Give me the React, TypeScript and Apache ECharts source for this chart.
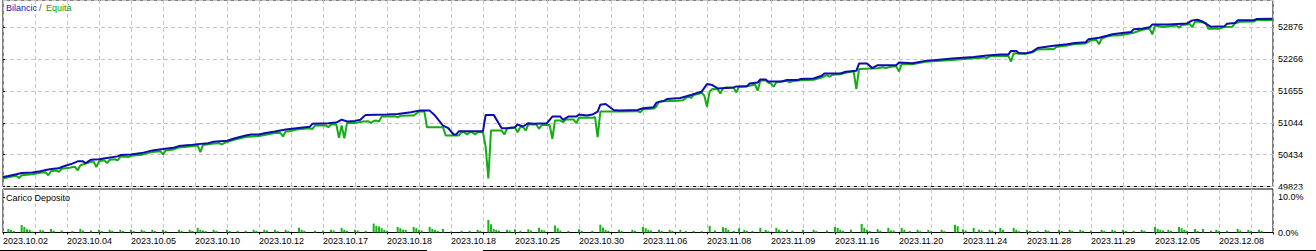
import React, { useEffect, useRef } from 'react';
import * as echarts from 'echarts';

// x = deal number, y = account value
const dateLabels = [
  '2023.10.02', '2023.10.04', '2023.10.05', '2023.10.10', '2023.10.12',
  '2023.10.17', '2023.10.18', '2023.10.18', '2023.10.25', '2023.10.30',
  '2023.11.06', '2023.11.08', '2023.11.09', '2023.11.16', '2023.11.20',
  '2023.11.24', '2023.11.28', '2023.11.29', '2023.12.05', '2023.12.08',
];

const balance: number[][] = [
  [0, 50006], [2, 50025], [5, 50058], [7, 50083], [11, 50090], [14, 50115], [17, 50148], [19, 50163],
  [21, 50172], [22, 50197], [24, 50230], [26, 50262], [28, 50306], [30, 50306], [31, 50268], [32, 50306],
  [33, 50338], [36, 50344], [39, 50369], [43, 50401], [44, 50426], [48, 50439], [52, 50464], [56, 50516],
  [60, 50541], [64, 50567], [66, 50598], [70, 50617], [73, 50636], [77, 50655], [79, 50682], [84, 50701],
  [87, 50750], [91, 50802], [93, 50821], [96, 50821], [98, 50846], [102, 50878], [106, 50916], [110, 50941],
  [115, 50968], [116, 51025], [122, 51037], [125, 51050], [127, 51107], [129, 51069], [132, 51082], [134, 51102],
  [136, 51197], [144, 51203], [148, 51216], [153, 51247], [156, 51279], [160, 51279], [162, 51184], [165, 50993],
  [167, 50941], [169, 50821], [170, 50821], [171, 50884], [180, 50884], [181, 51197], [184, 51197], [187, 50941],
  [189, 50941], [192, 50960], [193, 51012], [195, 50974], [197, 51037], [199, 51025], [204, 51037], [206, 51164],
  [209, 51164], [210, 51102], [212, 51164], [215, 51164], [216, 51203], [219, 51184], [221, 51203], [223, 51260],
  [224, 51393], [226, 51407], [229, 51292], [231, 51279], [238, 51292], [240, 51323], [244, 51342], [245, 51432],
  [248, 51470], [249, 51502], [254, 51521], [258, 51579], [261, 51628], [262, 51642], [264, 51788], [266, 51769],
  [268, 51705], [274, 51724], [275, 51743], [279, 51743], [280, 51800], [283, 51819], [284, 51876], [286, 51876],
  [287, 51838], [292, 51838], [294, 51865], [298, 51865], [299, 51884], [304, 51895], [307, 51947], [308, 51991],
  [314, 51991], [316, 52023], [320, 52042], [321, 52182], [324, 52182], [326, 52094], [328, 52151], [335, 52151],
  [336, 52201], [341, 52189], [346, 52233], [356, 52277], [364, 52309], [369, 52334], [374, 52353], [377, 52353],
  [378, 52424], [380, 52424], [381, 52380], [384, 52385], [386, 52410], [388, 52481], [394, 52525], [399, 52552],
  [402, 52576], [406, 52590], [407, 52647], [411, 52678], [414, 52716], [416, 52742], [419, 52762], [423, 52786],
  [424, 52838], [427, 52849], [430, 52876], [431, 52933], [437, 52929], [444, 52952], [446, 53010], [448, 53021],
  [450, 52983], [453, 52887], [458, 52895], [459, 52945], [462, 52960], [463, 53010], [469, 53010], [470, 53034],
  [476, 53040],
];

const equity: number[][] = [
  [0, 49976], [2, 50001], [5, 50029], [6, 49987], [7, 50039], [11, 50058], [14, 50087], [16, 50095],
  [17, 50039], [18, 50115], [20, 50130], [21, 50102], [22, 50163], [25, 50182], [27, 50200], [28, 50134],
  [29, 50230], [33, 50296], [34, 50300], [35, 50197], [36, 50306], [38, 50325], [39, 50274], [40, 50335],
  [42, 50345], [43, 50325], [44, 50392], [46, 50400], [47, 50388], [48, 50411], [52, 50430], [56, 50487],
  [59, 50500], [60, 50439], [61, 50516], [64, 50535], [66, 50573], [70, 50592], [73, 50611], [74, 50483],
  [75, 50621], [79, 50649], [81, 50655], [82, 50630], [84, 50678], [87, 50726], [91, 50773], [96, 50792],
  [97, 50802], [102, 50850], [104, 50855], [105, 50783], [106, 50880], [108, 50888], [110, 50916], [115, 50940],
  [116, 50925], [117, 50993], [121, 51000], [122, 50960], [123, 51012], [125, 51012], [126, 50758], [127, 50993],
  [128, 50746], [129, 51040], [132, 51040], [135, 51069], [137, 51075], [138, 51044], [139, 51080], [140, 51088],
  [141, 51069], [142, 51164], [146, 51164], [147, 51170], [148, 51150], [149, 51180], [153, 51184], [154, 51184],
  [156, 51260], [158, 51269], [159, 50960], [165, 50960], [166, 50802], [171, 50802], [172, 50865], [173, 50865],
  [174, 50821], [175, 50865], [176, 50865], [177, 50821], [178, 50865], [180, 50865], [181, 50579], [182, 49976],
  [183, 50897], [187, 50897], [188, 50821], [189, 50936], [192, 50950], [193, 50865], [194, 50965], [195, 50965],
  [196, 50897], [197, 51012], [200, 51012], [201, 50930], [202, 51002], [205, 51002], [206, 50739], [207, 51088],
  [209, 51088], [210, 51056], [211, 51107], [214, 51107], [215, 51037], [216, 51145], [221, 51140], [222, 51155],
  [223, 50770], [224, 51260], [230, 51260], [238, 51269], [239, 51247], [240, 51298], [244, 51317], [245, 51355],
  [246, 51451], [248, 51460], [253, 51470], [255, 51480], [257, 51550], [258, 51521], [259, 51580], [261, 51603],
  [262, 51622], [263, 51565], [264, 51355], [265, 51647], [266, 51693], [268, 51690], [269, 51609], [270, 51705],
  [271, 51724], [274, 51718], [275, 51628], [276, 51737], [280, 51756], [282, 51780], [283, 51661], [284, 51851],
  [286, 51861], [287, 51813], [288, 51800], [289, 51737], [290, 51823], [294, 51851], [295, 51819], [296, 51842],
  [299, 51861], [304, 51871], [307, 51914], [309, 51960], [310, 51928], [311, 51966], [314, 51975], [316, 52004],
  [319, 52033], [320, 51693], [321, 52075], [328, 52090], [330, 52110], [331, 52094], [333, 52119], [335, 52128],
  [336, 52029], [337, 52170], [341, 52170], [346, 52214], [356, 52252], [364, 52281], [368, 52300], [369, 52285],
  [370, 52320], [374, 52328], [377, 52328], [378, 52220], [379, 52380], [383, 52367], [386, 52395], [388, 52452],
  [393, 52462], [394, 52456], [395, 52500], [399, 52529], [402, 52557], [406, 52567], [408, 52624], [410, 52640],
  [411, 52552], [412, 52662], [414, 52701], [416, 52720], [419, 52723], [423, 52762], [424, 52773], [427, 52825],
  [430, 52853], [431, 52742], [432, 52910], [435, 52882], [440, 52910], [441, 52868], [442, 52920], [444, 52929],
  [445, 52940], [446, 52882], [447, 52987], [449, 52977], [451, 52960], [452, 52849], [456, 52849], [458, 52882],
  [461, 52887], [462, 52955], [464, 52983], [469, 52987], [470, 53015], [476, 53015],
];

// deposit load, percent
const depositLoad: number[][] = [
  [2, 1.0], [3, 0.75], [4, 0.45], [7, 2.1], [8, 1.5], [9, 0.9], [10, 0.75], [11, 0.3], [14, 0.75], [15, 0.55],
  [18, 1.0], [19, 0.55], [22, 0.55], [26, 0.4], [29, 1.0], [30, 0.55], [33, 0.55], [36, 0.75], [37, 0.4], [40, 0.75],
  [41, 0.45], [44, 0.75], [45, 0.45], [48, 0.75], [49, 0.4], [52, 0.75], [53, 0.45], [56, 0.75], [57, 0.4], [60, 0.75],
  [61, 0.45], [66, 0.75], [67, 0.45], [70, 0.75], [71, 0.45], [73, 1.3], [74, 0.75], [75, 0.55], [76, 0.4], [79, 0.75],
  [80, 0.4], [84, 0.75], [85, 0.4], [88, 0.45], [91, 0.45], [94, 0.75], [95, 0.4], [98, 0.75], [99, 0.55], [102, 0.75],
  [103, 0.4], [106, 0.75], [107, 0.4],
  [111, 1.3], [112, 0.74], [113, 0.46], [117, 0.46], [120, 0.46], [123, 0.74], [124, 0.56], [127, 1.3], [128, 0.74],
  [129, 0.46], [132, 0.74], [133, 0.56], [136, 0.46], [139, 2.5], [140, 1.85], [141, 1.67], [142, 1.2], [143, 0.74],
  [144, 0.46], [148, 1.57], [149, 1.2], [150, 0.74], [151, 0.74], [154, 1.57], [155, 1.2], [156, 0.74], [157, 0.56],
  [160, 1.57], [161, 1.0], [162, 0.74], [163, 0.46], [165, 1.0], [168, 0.28], [172, 0.46], [175, 0.46], [178, 0.74],
  [179, 0.46], [182, 3.5], [183, 2.3], [184, 1.0], [185, 0.74], [186, 0.56], [189, 0.74], [190, 0.56], [192, 0.93],
  [194, 0.46], [197, 0.93], [198, 0.56], [201, 1.3], [202, 0.74], [203, 0.56], [207, 1.95], [208, 1.2], [209, 0.56],
  [212, 0.46], [216, 0.93], [217, 0.46], [221, 0.46], [224, 2.2], [225, 1.4], [226, 0.74], [227, 0.46], [231, 0.74],
  [232, 0.46], [236, 0.74], [237, 0.46], [240, 1.57], [241, 1.2], [242, 0.74], [243, 0.56], [246, 0.74], [247, 0.46],
  [250, 0.74], [251, 0.46], [254, 0.74], [256, 0.46], [259, 0.46],
  [262, 0.37], [265, 1.85], [267, 0.56], [270, 1.5], [271, 1.3], [272, 0.74], [274, 0.46], [276, 1.2], [278, 0.74],
  [279, 0.46], [281, 0.46], [284, 1.3], [286, 0.74], [287, 0.37], [290, 1.3], [291, 0.74], [292, 0.37], [294, 0.74],
  [296, 0.46], [300, 0.74], [304, 0.74], [305, 0.37], [309, 0.56], [312, 1.57], [313, 1.3], [314, 0.74], [315, 0.46],
  [318, 0.74], [322, 2.4], [323, 1.3], [324, 0.74], [325, 0.46], [328, 0.93], [329, 0.46], [332, 1.3], [333, 0.56],
  [334, 0.56], [337, 1.3], [338, 0.74], [340, 0.46], [343, 0.74], [344, 0.37], [347, 0.74], [348, 0.37], [352, 0.74],
  [353, 0.37], [357, 2.2], [358, 1.76], [360, 0.93], [361, 0.56], [364, 1.3], [366, 0.74], [367, 0.56], [370, 0.74],
  [371, 0.46], [374, 1.3], [375, 0.74], [379, 1.3], [380, 0.74], [381, 0.37],
  [384, 0.74], [385, 0.46], [388, 0.46], [391, 0.74], [392, 0.46], [396, 0.74], [397, 0.46], [400, 0.74], [401, 0.46],
  [404, 0.74], [405, 0.46], [408, 0.46], [412, 0.74], [413, 0.46], [416, 0.74], [417, 0.46], [420, 0.74], [421, 0.46],
  [424, 0.46], [427, 0.74], [428, 0.46], [432, 1.57], [433, 1.0], [434, 0.74], [435, 0.56], [437, 0.74], [438, 0.46],
  [441, 1.57], [442, 1.2], [443, 0.74], [444, 0.46], [447, 1.0], [448, 0.46], [450, 1.0], [453, 0.46], [455, 0.74],
  [456, 0.46], [459, 0.46], [463, 1.0], [464, 0.56], [467, 0.74], [468, 0.46], [471, 0.74], [472, 0.46],
];

const DEAL_MAX = 476.25;
const DEALS_PER_GRID = 12;
const VALUE_MIN = 49823.2;
const VALUE_MAX = 53400.8;
const VALUE_STEP = 610.6;
const LOAD_MAX = 12.18;

const BLUE = '#0c0cb0';
const GREEN = '#12ad12';
const BAR_GREEN = '#14b814';
const FONT = 'Liberation Sans';

export default function App() {
  const ref = useRef<HTMLDivElement>(null);
  useEffect(() => {
    if (!ref.current) return;
    const chart = echarts.init(ref.current, null, { renderer: 'svg' });
    const dashed = { show: true, lineStyle: { color: '#c6c6c6', type: [4, 3] as any, width: 1 } };
    chart.setOption({
      animation: false,
      backgroundColor: '#ffffff',
      textStyle: { fontFamily: FONT },
      grid: [
        { left: 3, top: -1, width: 1270, height: 187.5, show: true, borderColor: '#000', borderWidth: 1, backgroundColor: '#fff' },
        { left: 3, top: 189, width: 1270, height: 43.5, show: true, borderColor: '#000', borderWidth: 1, backgroundColor: '#fff' },
      ],
      xAxis: [
        {
          type: 'value', gridIndex: 0, min: 0, max: DEAL_MAX, interval: DEALS_PER_GRID,
          axisLine: { show: false }, axisTick: { show: false }, axisLabel: { show: false }, splitLine: dashed,
        },
        {
          type: 'value', gridIndex: 1, min: 0, max: DEAL_MAX, interval: DEALS_PER_GRID,
          axisLine: { show: true, lineStyle: { color: '#000' } },
          axisTick: { show: true, length: 2, lineStyle: { color: '#000' } },
          axisLabel: {
            show: true, fontSize: 9, fontFamily: FONT, color: '#000', align: 'left', margin: 4,
            formatter: (v: number) => (v % (DEALS_PER_GRID * 2) === 0 ? dateLabels[v / (DEALS_PER_GRID * 2)] ?? '' : ''),
          },
          splitLine: dashed,
        },
      ],
      yAxis: [
        {
          type: 'value', gridIndex: 0, position: 'right', min: VALUE_MIN, max: VALUE_MAX, interval: VALUE_STEP,
          axisLine: { show: false },
          axisTick: { show: true, length: 2, lineStyle: { color: '#000' } },
          axisLabel: {
            fontSize: 9, fontFamily: FONT, color: '#000', margin: 5, showMaxLabel: false,
            formatter: (v: number) => String(Math.round(v)),
          },
          splitLine: dashed,
        },
        {
          type: 'value', gridIndex: 1, position: 'right', min: 0, max: LOAD_MAX, interval: 10,
          axisLine: { show: false },
          axisTick: { show: true, length: 2, lineStyle: { color: '#000' } },
          axisLabel: {
            fontSize: 9, fontFamily: FONT, color: '#000', margin: 5, showMaxLabel: false,
            formatter: (v: number) => (v === 0 || v === 10 ? v.toFixed(1) + '%' : ''),
          },
          splitLine: { show: false },
        },
      ],
      series: [
        {
          name: 'Equità', type: 'line', xAxisIndex: 0, yAxisIndex: 0, data: equity,
          symbol: 'none', showSymbol: false, z: 3,
          lineStyle: { color: GREEN, width: 2 },
        },
        {
          name: 'Bilancic', type: 'line', xAxisIndex: 0, yAxisIndex: 0, data: balance,
          symbol: 'none', showSymbol: false, z: 4,
          lineStyle: { color: BLUE, width: 2 },
        },
        {
          name: 'Carico Deposito', type: 'bar', xAxisIndex: 1, yAxisIndex: 1, data: depositLoad,
          barWidth: 2, itemStyle: { color: BAR_GREEN },
        },
      ],
      graphic: [
        { type: 'text', x: 6, y: 8, z: 50, style: { text: 'Bilancic', fontSize: 9, fontFamily: FONT, fill: '#1515b0', verticalAlign: 'middle' } },
        { type: 'text', x: 39, y: 8, z: 50, style: { text: '/', fontSize: 9, fontFamily: FONT, fill: '#5a4a20', verticalAlign: 'middle' } },
        { type: 'text', x: 46, y: 8, z: 50, style: { text: 'Equità', fontSize: 9, fontFamily: FONT, fill: '#10a010', verticalAlign: 'middle' } },
        { type: 'text', x: 6, y: 198, z: 50, style: { text: 'Carico Deposito', fontSize: 9, fontFamily: FONT, fill: '#000', verticalAlign: 'middle' } },
        { type: 'rect', z: 60, shape: { x: 1275, y: 189.5, width: 41, height: 2.5 }, style: { fill: '#fff' } },
        { type: 'line', z: 60, shape: { x1: 0, y1: 250.5, x2: 427, y2: 250.5 }, style: { stroke: '#000', lineWidth: 1 } },
        { type: 'line', z: 60, shape: { x1: 483, y1: 250.5, x2: 1316, y2: 250.5 }, style: { stroke: '#000', lineWidth: 1 } },
      ],
    });
    return () => chart.dispose();
  }, []);
  return (
    <div
      ref={ref}
      style={{ position: 'fixed', left: 0, top: 0, width: 1316, height: 251, background: '#fff' }}
    />
  );
}
